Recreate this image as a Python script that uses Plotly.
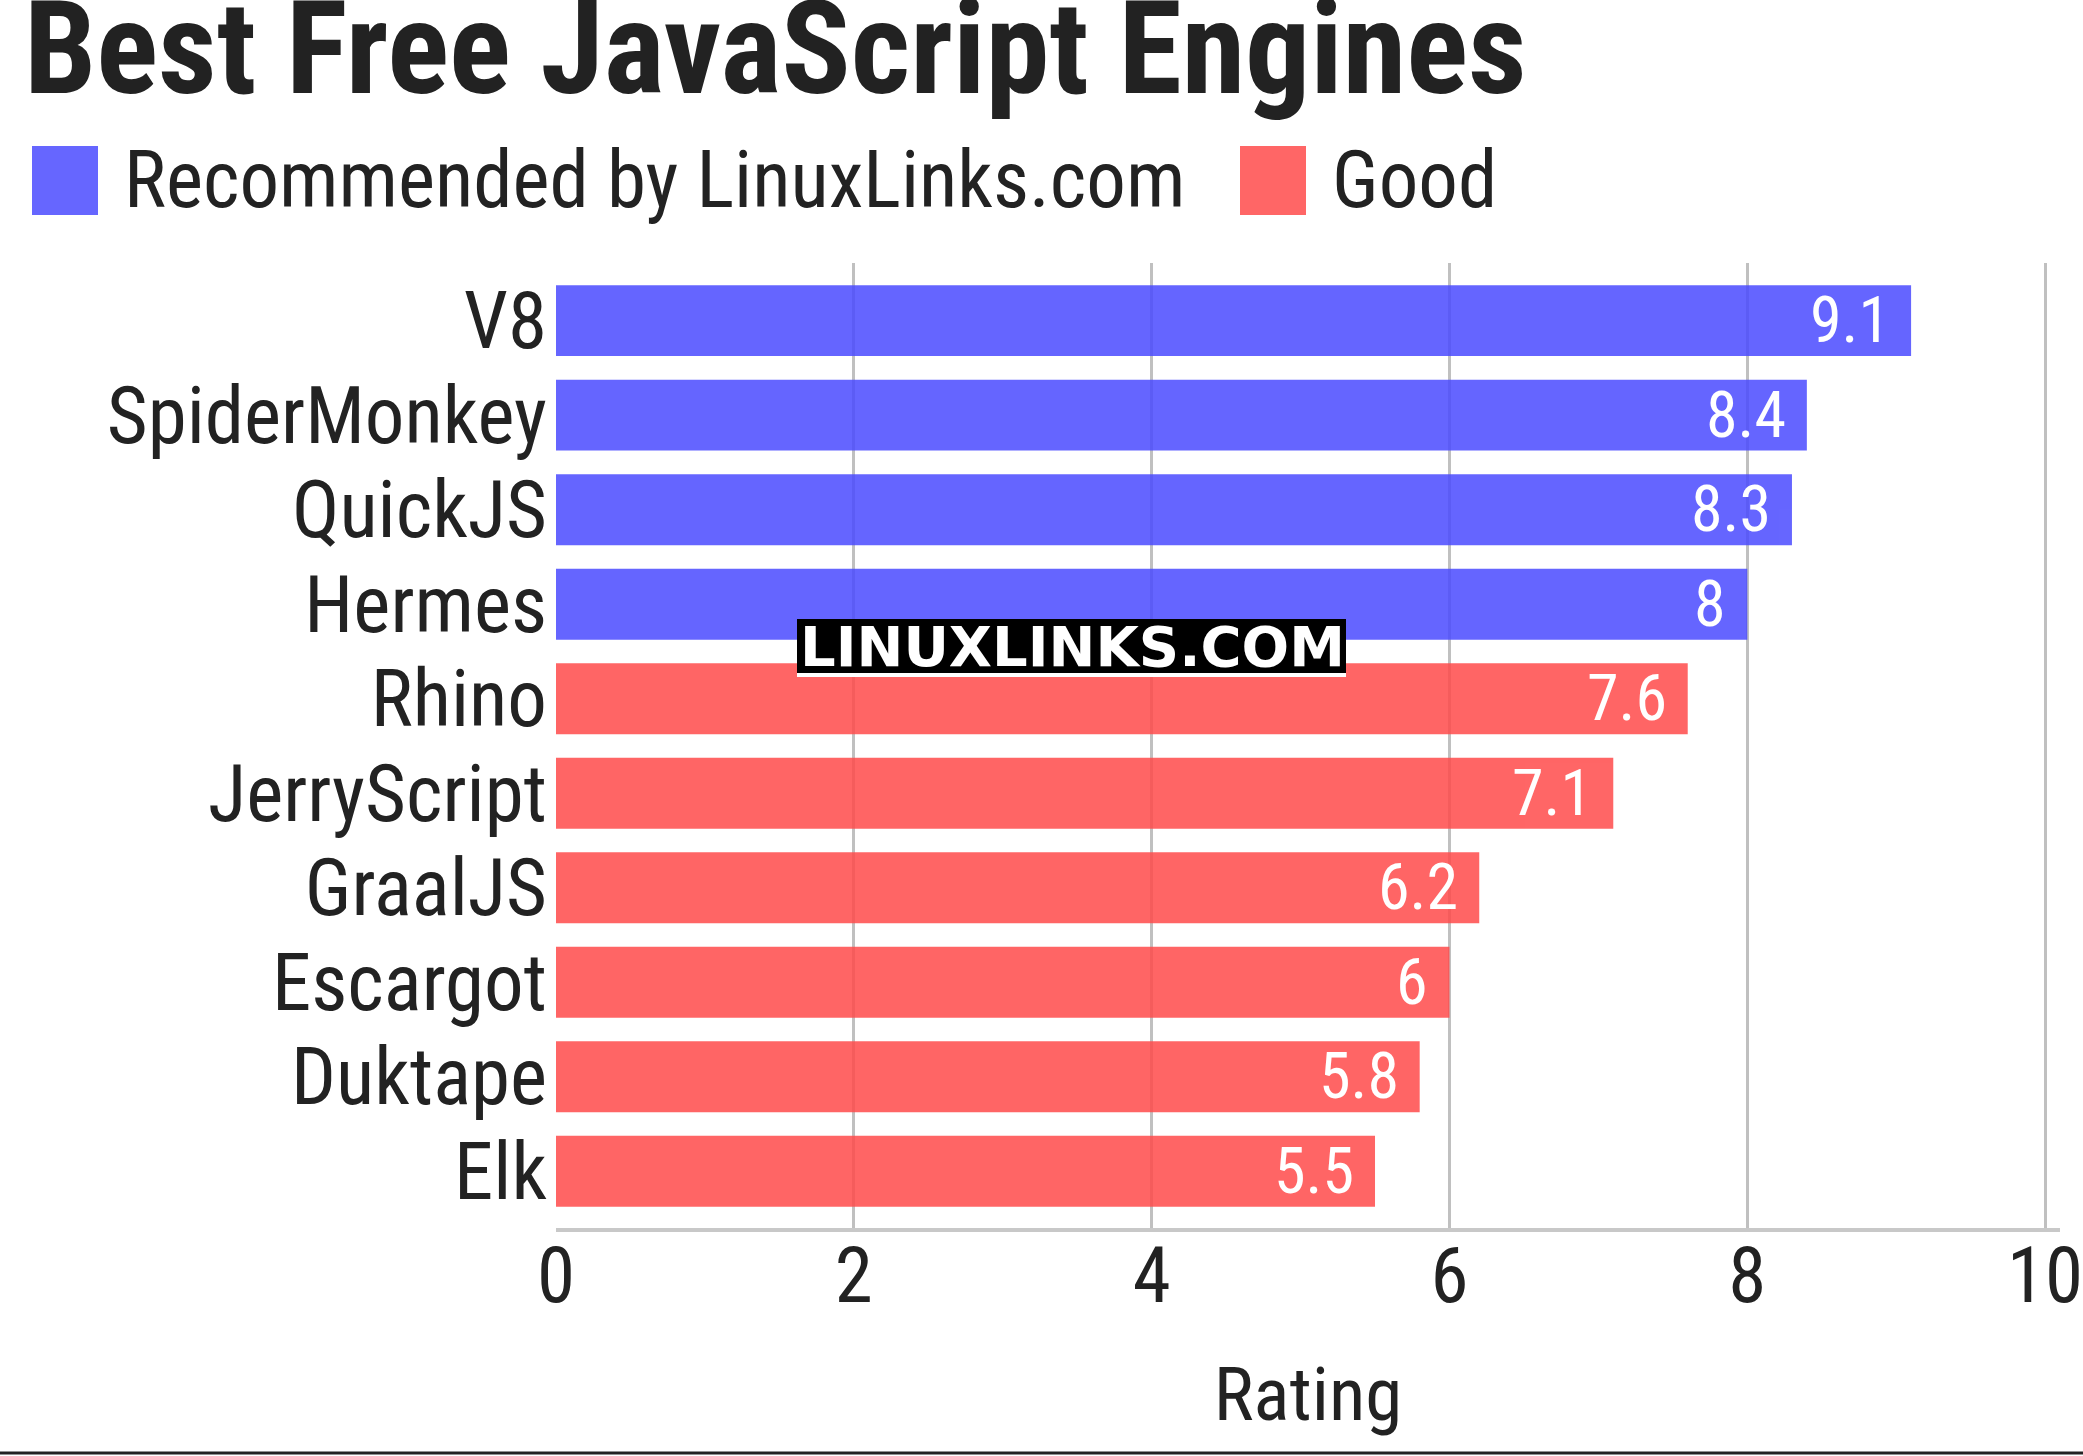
import plotly.graph_objects as go

# ---- data ----
engines = ["V8", "SpiderMonkey", "QuickJS", "Hermes", "Rhino",
           "JerryScript", "GraalJS", "Escargot", "Duktape", "Elk"]
ratings = [9.1, 8.4, 8.3, 8, 7.6, 7.1, 6.2, 6, 5.8, 5.5]
groups = ["Recommended by LinuxLinks.com"] * 4 + ["Good"] * 6
group_names = ["Recommended by LinuxLinks.com", "Good"]
x_ticks = [0, 2, 4, 6, 8, 10]

# ---- styling ----
W, H = 2083, 1456
ML, MR, MT, MB = 556, 23, 263, 228
PW, PH = W - ML - MR, H - MT - MB
FONT = "Roboto Condensed, Liberation Sans Narrow, DejaVu Sans Condensed, Roboto, sans-serif"
group_colors = {"Recommended by LinuxLinks.com": "rgb(75,75,255)", "Good": "rgb(255,75,75)"}
legend_colors = {"Recommended by LinuxLinks.com": "#6666ff", "Good": "#ff6666"}
TXT = "#222222"


def px(x):
    return (x - ML) / PW


def py(y):
    return (H - MB - y) / PH


fig = go.Figure()
fig.add_trace(go.Bar(
    x=ratings, y=engines, orientation="h",
    marker=dict(color=[group_colors[g] for g in groups], line=dict(width=0)),
    opacity=0.85, width=0.75, hoverinfo="x+y", showlegend=False,
))

annotations = []
# value labels
for e, v in zip(engines, ratings):
    annotations.append(dict(
        x=v, y=e, xref="x", yref="y", text=f"{v:g}", showarrow=False,
        xanchor="right", yanchor="middle", xshift=-19,
        font=dict(family=FONT, size=64, color="white"),
    ))

# title
annotations.append(dict(
    x=px(22), y=py(48), xref="paper", yref="paper", text="<b>Best Free JavaScript Engines</b>",
    showarrow=False, xanchor="left", yanchor="middle",
    font=dict(family=FONT, size=129, color=TXT),
))

# legend (manual)
shapes = []
legend_sq_x = {"Recommended by LinuxLinks.com": 32, "Good": 1240}
for g in group_names:
    x0 = legend_sq_x[g]
    shapes.append(dict(type="rect", xref="paper", yref="paper",
                       x0=px(x0), x1=px(x0 + 66), y0=py(215), y1=py(146),
                       fillcolor=legend_colors[g], line=dict(width=0)))
    annotations.append(dict(
        x=px(x0 + 90), y=py(180), xref="paper", yref="paper", text=g,
        showarrow=False, xanchor="left", yanchor="middle",
        font=dict(family=FONT, size=79, color=TXT),
    ))

# watermark
shapes.append(dict(type="rect", xref="paper", yref="paper", layer="above",
                   x0=px(797), x1=px(1346), y0=py(673), y1=py(619),
                   fillcolor="black", line=dict(width=0)))
shapes.append(dict(type="rect", xref="paper", yref="paper", layer="above",
                   x0=px(797), x1=px(1346), y0=py(677), y1=py(673),
                   fillcolor="white", line=dict(width=0)))
annotations.append(dict(
    x=px(1072), y=py(646), xref="paper", yref="paper", text="<b>LINUXLINKS.COM</b>",
    showarrow=False, xanchor="center", yanchor="middle",
    font=dict(family="DejaVu Sans, Verdana, sans-serif", size=56, color="white"),
))

# bottom rule
shapes.append(dict(type="line", xref="paper", yref="paper",
                   x0=px(0), x1=px(W), y0=py(1453), y1=py(1453),
                   line=dict(color=TXT, width=3)))

fig.update_layout(
    width=W, height=H,
    margin=dict(l=ML, r=MR, t=MT, b=MB, pad=0, autoexpand=False),
    paper_bgcolor="white", plot_bgcolor="white",
    showlegend=False,
    annotations=annotations, shapes=shapes,
    xaxis=dict(
        range=[0, 10.1], tickmode="array", tickvals=x_ticks, ticktext=[str(t) for t in x_ticks],
        showgrid=True, gridcolor="#c0c0c0", gridwidth=3, zeroline=False,
        showline=True, linecolor="#c8c8c8", linewidth=4,
        ticks="", ticklabelstandoff=-22, ticklabeloverflow="allow",
        tickfont=dict(family=FONT, size=77, color=TXT),
        title=dict(text="Rating", font=dict(family=FONT, size=75, color=TXT), standoff=48),
        automargin=False, fixedrange=True,
    ),
    yaxis=dict(
        categoryorder="array", categoryarray=engines,
        tickmode="array", tickvals=engines, ticktext=engines,
        range=[9.6, -0.61],
        showgrid=False, zeroline=False, showline=False,
        ticks="", ticklabelstandoff=8, ticklabeloverflow="allow",
        tickfont=dict(family=FONT, size=79, color=TXT),
        automargin=False, fixedrange=True,
    ),
)

fig.write_html("out.html")
